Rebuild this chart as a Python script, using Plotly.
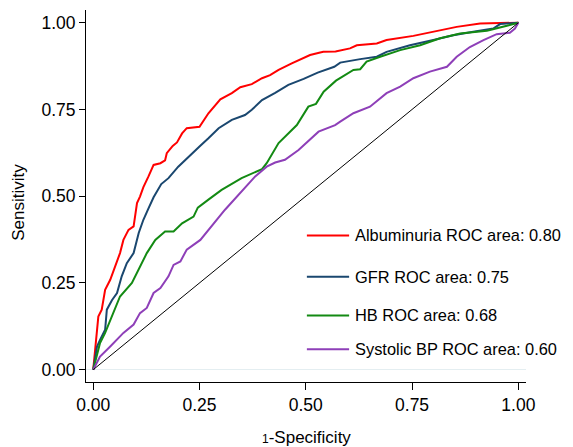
import plotly.graph_objects as go

alb_x = [0, 0.003, 0.009, 0.012, 0.02, 0.028, 0.04, 0.052, 0.063, 0.071, 0.083, 0.095, 0.103, 0.11, 0.118, 0.13, 0.142, 0.158, 0.169, 0.173, 0.187, 0.197, 0.209, 0.22, 0.25, 0.271, 0.299, 0.326, 0.346, 0.373, 0.397, 0.416, 0.436, 0.467, 0.49, 0.51, 0.541, 0.57, 0.604, 0.62, 0.667, 0.69, 0.753, 0.8, 0.855, 0.91, 1]
alb_y = [0, 0.038, 0.115, 0.153, 0.173, 0.23, 0.259, 0.297, 0.336, 0.374, 0.403, 0.413, 0.48, 0.499, 0.526, 0.557, 0.59, 0.595, 0.603, 0.624, 0.645, 0.655, 0.681, 0.696, 0.7, 0.739, 0.779, 0.797, 0.814, 0.823, 0.84, 0.849, 0.864, 0.883, 0.895, 0.907, 0.916, 0.917, 0.926, 0.935, 0.94, 0.95, 0.962, 0.974, 0.988, 0.998, 1]

gfr_x = [0, 0.009, 0.016, 0.028, 0.032, 0.044, 0.056, 0.067, 0.079, 0.095, 0.107, 0.118, 0.13, 0.142, 0.16, 0.177, 0.2, 0.224, 0.25, 0.271, 0.295, 0.326, 0.357, 0.373, 0.397, 0.428, 0.459, 0.495, 0.528, 0.567, 0.581, 0.628, 0.667, 0.69, 0.745, 0.8, 0.847, 0.894, 0.941, 0.957, 1]
gfr_y = [0, 0.067, 0.086, 0.115, 0.173, 0.2, 0.221, 0.269, 0.307, 0.336, 0.394, 0.432, 0.465, 0.497, 0.535, 0.552, 0.585, 0.614, 0.643, 0.667, 0.696, 0.72, 0.734, 0.749, 0.777, 0.798, 0.821, 0.838, 0.856, 0.873, 0.885, 0.895, 0.902, 0.916, 0.935, 0.95, 0.964, 0.974, 0.983, 0.996, 1]

hb_x = [0, 0.009, 0.016, 0.028, 0.04, 0.052, 0.063, 0.091, 0.11, 0.126, 0.146, 0.169, 0.189, 0.209, 0.236, 0.246, 0.271, 0.302, 0.349, 0.397, 0.408, 0.436, 0.479, 0.506, 0.524, 0.542, 0.571, 0.612, 0.628, 0.643, 0.675, 0.722, 0.769, 0.816, 0.863, 0.926, 0.973, 1]
hb_y = [0, 0.048, 0.077, 0.106, 0.144, 0.182, 0.211, 0.25, 0.297, 0.336, 0.374, 0.398, 0.398, 0.422, 0.441, 0.467, 0.49, 0.518, 0.552, 0.578, 0.595, 0.653, 0.705, 0.758, 0.766, 0.801, 0.833, 0.864, 0.866, 0.888, 0.902, 0.921, 0.935, 0.955, 0.969, 0.977, 0.991, 1]

sbp_x = [0, 0.016, 0.04, 0.056, 0.071, 0.095, 0.11, 0.126, 0.142, 0.158, 0.177, 0.189, 0.205, 0.22, 0.252, 0.31, 0.349, 0.381, 0.408, 0.428, 0.451, 0.483, 0.53, 0.569, 0.581, 0.612, 0.651, 0.69, 0.722, 0.753, 0.792, 0.832, 0.855, 0.886, 0.918, 0.949, 0.98, 0.992, 1]
sbp_y = [0, 0.038, 0.067, 0.086, 0.106, 0.13, 0.163, 0.178, 0.221, 0.235, 0.269, 0.302, 0.312, 0.346, 0.374, 0.461, 0.513, 0.557, 0.585, 0.597, 0.605, 0.633, 0.686, 0.705, 0.715, 0.739, 0.758, 0.797, 0.816, 0.84, 0.859, 0.873, 0.902, 0.93, 0.95, 0.967, 0.971, 0.983, 1]

ref_x = [0, 1]
ref_y = [0, 1]

tick_vals = [0, 0.25, 0.5, 0.75, 1]
tick_text = ["0.00", "0.25", "0.50", "0.75", "1.00"]

series_names = ["Albuminuria ROC area: 0.80", "GFR ROC area: 0.75", "HB ROC area: 0.68", "Systolic BP ROC area: 0.60"]
series_colors = ["#ff0000", "#1a476f", "#138a13", "#8e3fb8"]
series_x = [alb_x, gfr_x, hb_x, sbp_x]
series_y = [alb_y, gfr_y, hb_y, sbp_y]
legend_y = [0.394, 0.283, 0.179, 0.088]

FONT = "Liberation Sans, Arial, sans-serif"

fig = go.Figure()
for xs, ys, nm, col in zip(series_x, series_y, series_names, series_colors):
    fig.add_trace(go.Scatter(x=xs, y=ys, mode="lines", name=nm,
                             line=dict(color=col, width=2), showlegend=False))
fig.add_trace(go.Scatter(x=ref_x, y=ref_y, mode="lines",
                         line=dict(color="black", width=1), showlegend=False))

for nm, col, ly in zip(series_names, series_colors, legend_y):
    fig.add_shape(type="line", xref="paper", yref="paper",
                  x0=0.502, x1=0.598, y0=ly, y1=ly,
                  line=dict(color=col, width=2))
    fig.add_annotation(xref="paper", yref="paper", x=0.606, y=ly, text=nm,
                       showarrow=False, xanchor="left", yanchor="middle",
                       font=dict(family=FONT, size=16.4, color="black"))

fig.add_annotation(xref="paper", yref="paper", x=0.5, y=-0.148,
                   text='<span style="font-size:12px">1</span>-Specificity',
                   showarrow=False, xanchor="center", yanchor="middle",
                   font=dict(family=FONT, size=17, color="black"))
fig.add_annotation(xref="paper", yref="paper", x=-0.152, y=0.482,
                   text="Sensitivity", textangle=-90,
                   showarrow=False, xanchor="center", yanchor="middle",
                   font=dict(family=FONT, size=17, color="black"))

# page body has an 8px margin: shrink the figure so the plot lands where the reference has it
fig.update_layout(
    width=565, height=439,
    margin=dict(l=78, r=47, t=2, b=65),
    paper_bgcolor="white", plot_bgcolor="white",
    font=dict(family=FONT, size=17.5, color="black"),
)
fig.update_xaxes(range=[-0.017, 1.018], tickvals=tick_vals, ticktext=tick_text,
                 showline=True, linecolor="black", linewidth=1,
                 ticks="outside", ticklen=7, tickcolor="black",
                 tickfont=dict(size=17.5),
                 showgrid=False, zeroline=False)
fig.update_yaxes(range=[-0.0355, 1.0366], tickvals=tick_vals, ticktext=tick_text,
                 showline=True, linecolor="black", linewidth=1,
                 ticks="outside", ticklen=6, tickcolor="black",
                 tickfont=dict(size=17.5),
                 showgrid=False, zeroline=True, zerolinecolor="#e4eef1", zerolinewidth=1)

fig.write_html("out.html")
